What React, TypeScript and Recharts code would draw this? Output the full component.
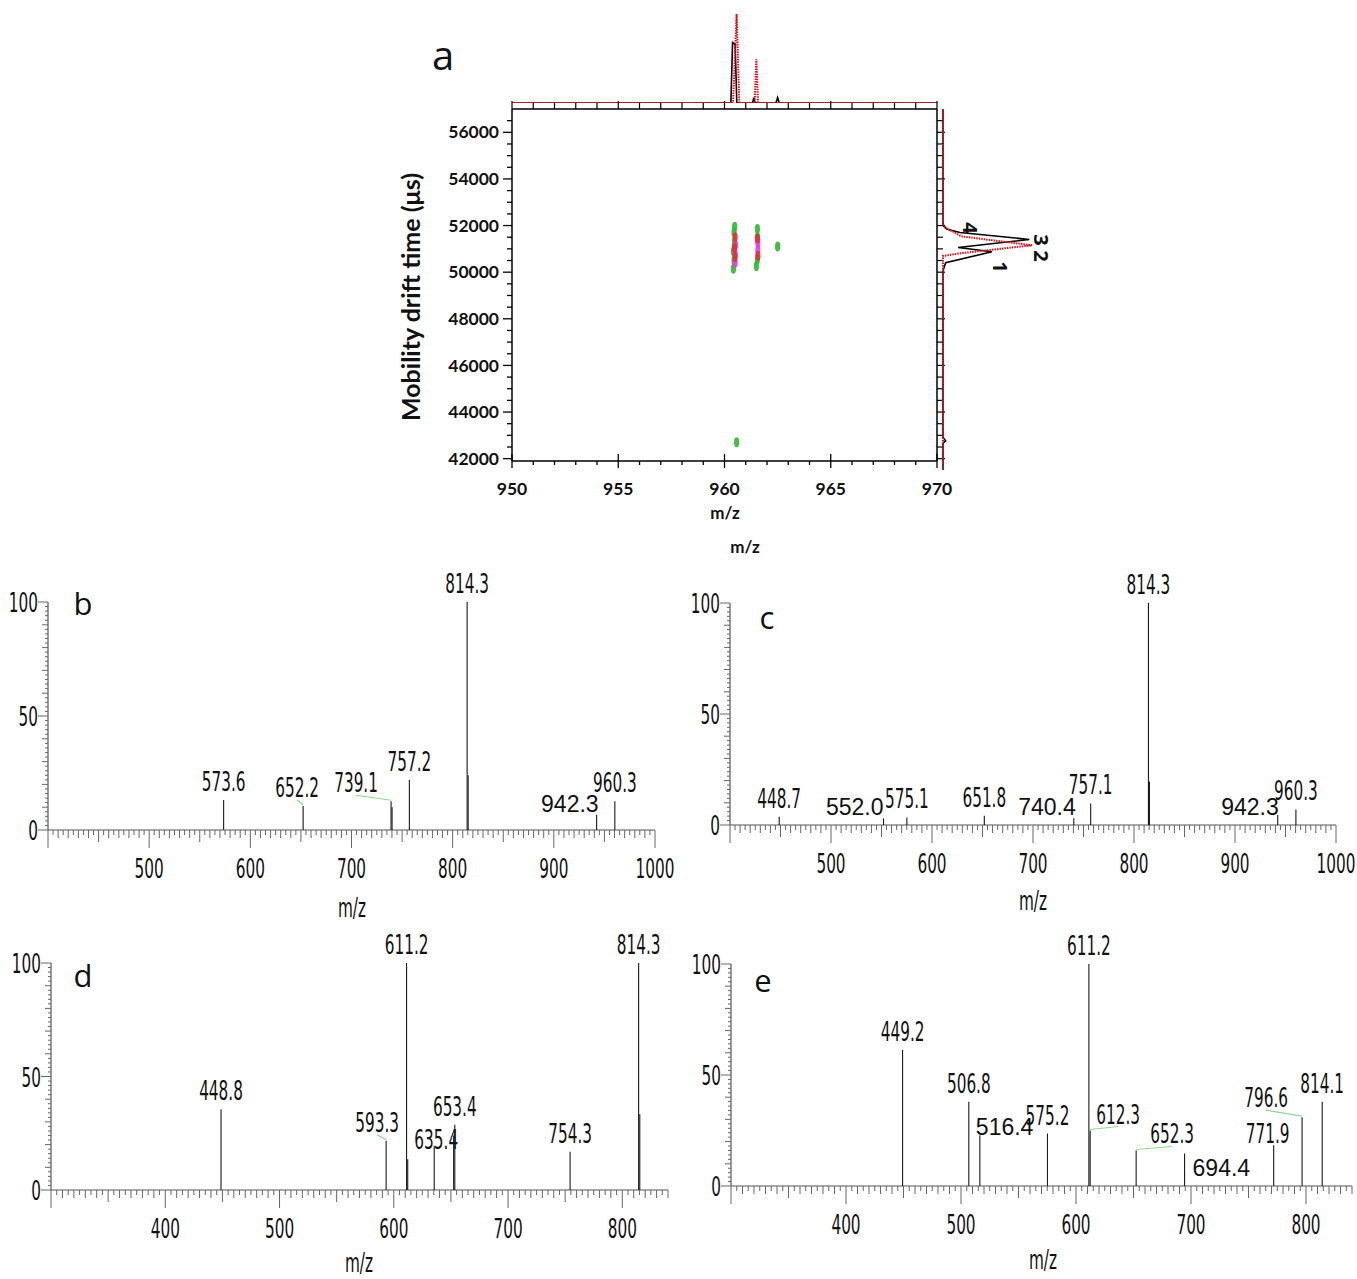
import React from 'react';
import { ScatterChart, Scatter, XAxis, YAxis } from 'recharts';

const NARROW = "'DejaVu Sans Condensed', 'DejaVu Sans', sans-serif";
const PLAIN = "'Liberation Sans', Arial, sans-serif";
const BOLD = "Lato, 'Open Sans', sans-serif";
const INK = '#111';
const LEADER = '#8fd88f';

// ---------- panel a: drift time vs m/z map ----------
const MAP_MZ_DOMAIN = [950, 970];
const MAP_DRIFT_DOMAIN = [41900, 57000];
const SIDE_DRIFT_DOMAIN = [41500, 57000];

// top projection (m/z profile)
const TOP_MZ_BLACK = [950, 960.3, 960.38, 960.5, 960.58, 961.32, 961.38, 961.44, 962.42, 962.5, 962.58, 970];
const TOP_INT_BLACK = [0, 0, 68, 66, 0, 0, 6, 0, 0, 6, 0, 0];
const TOP_MZ_RED = [950, 960.4, 960.57, 960.7, 961.42, 961.5, 961.58, 970];
const TOP_INT_RED = [0, 0, 100, 0, 0, 49, 0, 0];

// side projection (drift time profile)
const SIDE_DRIFT_BLACK = [57000, 52000, 51850, 51700, 51400, 51050, 50870, 50400, 50050, 42900, 42750, 42650, 41500];
const SIDE_INT_BLACK = [0, 0, 4, 19, 97, 17, 55, 3, 0, 0, 3, 0, 0];
const SIDE_DRIFT_RED = [57000, 52050, 51900, 51530, 51150, 50810, 50690, 41500];
const SIDE_INT_RED = [0, 0, 3, 21, 100, 21, 0, 0];

// spots in the map
const SPOTS_GREEN = [
  { mz: 960.42, drift: 50150 }, { mz: 960.45, drift: 50500 }, { mz: 960.42, drift: 50900 },
  { mz: 960.47, drift: 51300 }, { mz: 960.45, drift: 51700 }, { mz: 960.48, drift: 51950 },
  { mz: 961.5, drift: 50250 }, { mz: 961.55, drift: 50550 }, { mz: 961.55, drift: 51500 },
  { mz: 961.55, drift: 51850 }, { mz: 962.5, drift: 51100 }, { mz: 960.57, drift: 42700 },
];
const SPOTS_MAGENTA = [
  { mz: 960.5, drift: 50400 }, { mz: 960.5, drift: 50800 }, { mz: 960.52, drift: 51150 },
  { mz: 961.57, drift: 50950 }, { mz: 961.57, drift: 51250 },
];
const SPOTS_RED = [
  { mz: 960.5, drift: 50650 }, { mz: 960.47, drift: 51050 }, { mz: 960.5, drift: 51500 },
  { mz: 961.55, drift: 51450 }, { mz: 961.57, drift: 50700 },
];

// ---------- panels b-e: MS/MS spectra ----------
const B_MZ = [573.6, 652.2, 739.1, 740.1, 757.2, 814.3, 815.3, 942.3, 960.3];
const B_REL = [13.2, 10.5, 12.6, 10, 22, 100, 24, 6.7, 12.6];
const B_TAG = ['573.6', '652.2', '739.1', '', '757.2', '814.3', '', '942.3', '960.3'];

const C_MZ = [448.7, 552.0, 575.1, 651.8, 740.4, 757.1, 814.3, 815.3, 942.3, 960.3];
const C_REL = [3.7, 3, 3.4, 4.2, 3, 9.7, 100, 19.5, 4.5, 7];
const C_TAG = ['448.7', '552.0', '575.1', '651.8', '740.4', '757.1', '814.3', '', '942.3', '960.3'];

const D_MZ = [448.8, 593.3, 611.2, 612.2, 635.4, 652.4, 653.4, 754.3, 814.3, 815.3];
const D_REL = [35.6, 21.7, 100, 13.6, 19.5, 24, 28.7, 16.8, 100, 33.4];
const D_TAG = ['448.8', '593.3', '611.2', '', '635.4', '', '653.4', '754.3', '814.3', ''];

const E_MZ = [449.2, 506.8, 516.4, 575.2, 611.2, 612.3, 652.3, 694.4, 771.9, 796.6, 814.1];
const E_REL = [61.3, 38, 22.9, 23.6, 100, 25, 16, 14.6, 18.4, 31, 38];
const E_TAG = ['449.2', '506.8', '516.4', '575.2', '611.2', '612.3', '652.3', '694.4', '771.9', '796.6', '814.1'];

type Place = { dx?: number; dy?: number; anchor?: 'start' | 'middle' | 'end'; wide?: boolean; leader?: boolean };

// label nudges (styling only)
const PLACE: Record<string, Place> = {
  'b:652.2': { dx: -6, leader: true },
  'b:739.1': { dx: -35, dy: -9, leader: true },
  'b:942.3': { wide: true, anchor: 'end', dx: 2, dy: -3 },
  'c:552.0': { wide: true, anchor: 'end', dx: 0, dy: -3 },
  'c:740.4': { wide: true, anchor: 'end', dx: 2, dy: -3 },
  'c:942.3': { wide: true, anchor: 'end', dx: 1, dy: 0 },
  'd:593.3': { dx: -9, leader: true },
  'd:635.4': { dx: 2, dy: 3 },
  'e:516.4': { wide: true, anchor: 'start', dx: -4, dy: 0 },
  'e:612.3': { dx: 28, dy: -7, leader: true },
  'e:652.3': { dx: 36, dy: -7, leader: true },
  'e:694.4': { wide: true, anchor: 'start', dx: 8, dy: 22 },
  'e:771.9': { dx: -6, dy: -2 },
  'e:796.6': { dx: -36, dy: -10, leader: true },
};

const steps = (from: number, to: number, step: number) => {
  const out: number[] = [];
  for (let i = 0; from + i * step <= to + 1e-9; i++) out.push(Math.round((from + i * step) * 100) / 100);
  return out;
};
const zip2 = (xs: number[], ys: number[], kx: string, ky: string) => xs.map((x, i) => ({ [kx]: x, [ky]: ys[i] }));

// condensed, vertically stretched text like the instrument software output
const NText = ({ x, y, children, anchor = 'middle', size = 20, fill = INK }: any) => (
  <text transform={`translate(${x},${y}) scale(0.85,1.37)`} textAnchor={anchor} fontFamily={NARROW} fontSize={size} fill={fill}>
    {children}
  </text>
);

const Tag = ({ x, y, text, size, family, weight = 400, rotate = 0, sx = 1, sy = 1 }: any) => (
  <div
    style={{
      position: 'absolute', left: x, top: y,
      transform: `translate(-50%,-50%) rotate(${rotate}deg) scale(${sx},${sy})`,
      fontFamily: family, fontSize: size, fontWeight: weight, whiteSpace: 'nowrap', lineHeight: 1, color: INK,
    }}
  >
    {text}
  </div>
);

const Nothing = () => <g />;

// ---------- map ticks ----------
const mapLeftTick = (p: any) => {
  const v = p.payload.value;
  const major = v % 2000 === 0;
  return (
    <g>
      <line x1={p.x - (major ? 9 : 5)} x2={p.x} y1={p.y} y2={p.y} stroke="#000" strokeWidth={1.3} />
      {major && (
        <text x={p.x - 13} y={p.y} dy="0.35em" textAnchor="end" fontFamily={BOLD} fontWeight={700} fontSize={17.5} fill={INK}>
          {v}
        </text>
      )}
    </g>
  );
};
const mapBottomTick = (p: any) => {
  const v = p.payload.value;
  const major = v % 5 === 0;
  return (
    <g>
      <line x1={p.x} x2={p.x} y1={major ? p.y - 7 : p.y} y2={p.y + (major ? 7 : 4)} stroke="#000" strokeWidth={1.3} />
      {major && (
        <text x={p.x} y={p.y + 28} dy="0.35em" textAnchor="middle" fontFamily={BOLD} fontWeight={700} fontSize={17.5} fill={INK}>
          {v}
        </text>
      )}
    </g>
  );
};
const mapTopTick = (p: any) => {
  const major = p.payload.value % 5 === 0;
  return <line x1={p.x} x2={p.x} y1={p.y} y2={p.y - (major ? 8 : 6)} stroke="#000" strokeWidth={1.2} />;
};
const mapRightTick = (p: any) => {
  const major = p.payload.value % 2000 === 0;
  return <line x1={p.x} x2={p.x + (major ? 8 : 6)} y1={p.y} y2={p.y} stroke="#000" strokeWidth={1.2} />;
};

const spot = (color: string) => (p: any) => <ellipse cx={p.cx} cy={p.cy} rx={2.6} ry={5} fill={color} opacity={0.9} />;

function MapPanel() {
  const mzMinor = steps(950, 970, 1);
  const driftMinor = steps(42000, 56500, 500);
  return (
    <>
      {/* top m/z projection */}
      <div style={{ position: 'absolute', left: 500, top: 4 }}>
        <ScatterChart width={449} height={99} margin={{ top: 10, right: 12, left: 12, bottom: 0 }}>
          <XAxis type="number" dataKey="mz" domain={MAP_MZ_DOMAIN} hide />
          <YAxis type="number" dataKey="i" domain={[0, 100]} hide />
          <Scatter data={zip2(TOP_MZ_BLACK, TOP_INT_BLACK, 'mz', 'i')} line={{ stroke: '#000', strokeWidth: 1.6 }} shape={Nothing} isAnimationActive={false} />
          <Scatter data={zip2(TOP_MZ_RED, TOP_INT_RED, 'mz', 'i')} line={{ stroke: '#e3101c', strokeWidth: 2, strokeDasharray: '1.5 1' }} shape={Nothing} isAnimationActive={false} />
        </ScatterChart>
      </div>

      {/* main map */}
      <div style={{ position: 'absolute', left: 400, top: 100 }}>
        <ScatterChart width={560} height={419} margin={{ top: 8, right: 22, bottom: 0, left: 0 }}>
          <XAxis xAxisId="top" orientation="top" type="number" dataKey="mz" domain={MAP_MZ_DOMAIN} ticks={mzMinor} interval={0}
            height={1} tickSize={0} tickMargin={0} tickLine={false} tick={mapTopTick} axisLine={{ stroke: '#000', strokeWidth: 1.5 }} />
          <YAxis yAxisId="right" orientation="right" type="number" dataKey="drift" domain={MAP_DRIFT_DOMAIN} ticks={driftMinor} interval={0}
            width={1} tickSize={0} tickMargin={0} tickLine={false} tick={mapRightTick} axisLine={{ stroke: '#000', strokeWidth: 1.5 }} />
          <XAxis type="number" dataKey="mz" domain={MAP_MZ_DOMAIN} ticks={mzMinor} interval={0}
            height={58} tickSize={0} tickMargin={0} tickLine={false} tick={mapBottomTick} axisLine={{ stroke: '#000', strokeWidth: 1.5 }} />
          <YAxis type="number" dataKey="drift" domain={MAP_DRIFT_DOMAIN} ticks={driftMinor} interval={0}
            width={112} tickSize={0} tickMargin={0} tickLine={false} tick={mapLeftTick} axisLine={{ stroke: '#000', strokeWidth: 1.5 }} />
          {/* binds the frame axes (top / right) so they are drawn */}
          <Scatter xAxisId="top" yAxisId="right" data={SPOTS_GREEN} shape={Nothing} isAnimationActive={false} />
          <Scatter data={SPOTS_GREEN} shape={spot('#2eb82e')} isAnimationActive={false} />
          <Scatter data={SPOTS_MAGENTA} shape={spot('#e040e0')} isAnimationActive={false} />
          <Scatter data={SPOTS_RED} shape={spot('#e0303a')} isAnimationActive={false} />
        </ScatterChart>
      </div>

      {/* side drift projection */}
      <div style={{ position: 'absolute', left: 931, top: 100 }}>
        <ScatterChart width={110} height={370} margin={{ top: 9, right: 9, left: 12, bottom: 0 }}>
          <XAxis type="number" dataKey="i" domain={[0, 100]} hide />
          <YAxis type="number" dataKey="drift" domain={SIDE_DRIFT_DOMAIN} hide />
          <Scatter data={zip2(SIDE_INT_BLACK, SIDE_DRIFT_BLACK, 'i', 'drift')} line={{ stroke: '#000', strokeWidth: 1.6 }} shape={Nothing} isAnimationActive={false} />
          <Scatter data={zip2(SIDE_INT_RED, SIDE_DRIFT_RED, 'i', 'drift')} line={{ stroke: '#e3101c', strokeWidth: 2, strokeDasharray: '1.5 1' }} shape={Nothing} isAnimationActive={false} />
        </ScatterChart>
      </div>

      <Tag x={443} y={55} text="a" size={40} family="'Open Sans', sans-serif" />
      <Tag x={410} y={297} text="Mobility drift time (μs)" size={25} family={BOLD} weight={700} rotate={-90} />
      <Tag x={725} y={512} text="m/z" size={17} family={BOLD} weight={700} />
      <Tag x={745} y={546} text="m/z" size={17} family={BOLD} weight={700} />
      <Tag x={970} y={228} text="4" size={20} family="'Open Sans', sans-serif" weight={700} rotate={90} />
      <Tag x={1000} y={267} text="1" size={20} family="'Open Sans', sans-serif" weight={700} rotate={90} />
      <Tag x={1041} y={240} text="3" size={20} family="'Open Sans', sans-serif" weight={700} rotate={90} />
      <Tag x={1041} y={256} text="2" size={20} family="'Open Sans', sans-serif" weight={700} rotate={90} />
    </>
  );
}

// ---------- spectrum panel ----------
type SpecProps = {
  id: string; left: number; right: number; top: number; bottom: number; domain: number[];
  mz: number[]; rel: number[]; tags: string[]; marginRight?: number;
};

function Spectrum({ id, left, right, top, bottom, domain, mz, rel, tags, marginRight = 22 }: SpecProps) {
  const ML = 47;
  const MT = 45;
  const AXH = 62;
  const width = right + marginRight - (left - ML);
  const height = bottom - top + MT + AXH;
  const base = MT + (bottom - top);
  const data = mz.map((m, i) => ({ mz: m, rel: rel[i], tag: tags[i] }));

  const xTick = (p: any) => {
    const v = p.payload.value;
    const len = v % 100 === 0 ? 18 : v % 50 === 0 ? 12 : v % 10 === 0 ? 8 : 5;
    return (
      <g>
        <line x1={p.x} x2={p.x} y1={p.y} y2={p.y + len} stroke="#666" strokeWidth={1} />
        {v % 100 === 0 && v > domain[0] && <NText x={p.x} y={p.y + 48}>{v}</NText>}
      </g>
    );
  };
  const yTick = (p: any) => {
    const v = p.payload.value;
    const len = v % 50 === 0 ? 10 : v % 10 === 0 ? 6 : 3;
    return (
      <g>
        <line x1={p.x - len} x2={p.x} y1={p.y} y2={p.y} stroke="#666" strokeWidth={1} />
        {v % 50 === 0 && <NText x={p.x - 10} y={p.y + 10} anchor="end">{v}</NText>}
      </g>
    );
  };
  const stick = (p: any) => {
    const { cx, cy, payload } = p;
    const tag: string = payload.tag;
    const pl: Place = PLACE[`${id}:${tag}`] || {};
    const dx = pl.dx ?? 0;
    const dy = pl.dy ?? -9;
    const lx = cx + dx;
    const ly = cy + dy;
    return (
      <g>
        <line x1={cx} x2={cx} y1={cy} y2={base} stroke="#1a1a1a" strokeWidth={1.1} />
        {tag && pl.leader && <line x1={cx} y1={cy - 1} x2={lx} y2={ly + 3} stroke={LEADER} strokeWidth={1.2} />}
        {tag && !pl.wide && <NText x={lx} y={ly} anchor={pl.anchor || 'middle'}>{tag}</NText>}
        {tag && pl.wide && (
          <text x={lx} y={ly} textAnchor={pl.anchor || 'middle'} fontFamily={PLAIN} fontSize={23} fill={INK}>{tag}</text>
        )}
      </g>
    );
  };

  return (
    <div style={{ position: 'absolute', left: left - ML, top: top - MT }}>
      <ScatterChart width={width} height={height} margin={{ top: MT, right: marginRight, bottom: 0, left: 0 }}>
        <XAxis type="number" dataKey="mz" domain={domain} ticks={steps(domain[0], domain[1], 5)} interval={0}
          height={AXH} tickSize={0} tickMargin={0} tickLine={false} tick={xTick} axisLine={{ stroke: '#555', strokeWidth: 1.2 }} />
        <YAxis type="number" dataKey="rel" domain={[0, 100]} ticks={steps(0, 100, 2)} interval={0}
          width={ML} tickSize={0} tickMargin={0} tickLine={false} tick={yTick} axisLine={{ stroke: '#555', strokeWidth: 1.2 }} />
        <Scatter data={data} shape={stick} isAnimationActive={false} />
      </ScatterChart>
    </div>
  );
}

export default function App() {
  return (
    <div style={{ position: 'absolute', left: 0, top: 0, width: 1357, height: 1279, background: '#fff', overflow: 'hidden' }}>
      <MapPanel />

      <Spectrum id="b" left={48} right={655} top={602} bottom={830} domain={[400, 1000]} mz={B_MZ} rel={B_REL} tags={B_TAG} />
      <Spectrum id="c" left={730} right={1336} top={603} bottom={825} domain={[400, 1000]} mz={C_MZ} rel={C_REL} tags={C_TAG} marginRight={21} />
      <Spectrum id="d" left={51} right={668} top={963} bottom={1190} domain={[300, 840]} mz={D_MZ} rel={D_REL} tags={D_TAG} />
      <Spectrum id="e" left={731} right={1352} top={964} bottom={1186} domain={[300, 840]} mz={E_MZ} rel={E_REL} tags={E_TAG} marginRight={5} />

      <Tag x={83} y={603} text="b" size={31} family="'Open Sans', sans-serif" />
      <Tag x={767} y={617} text="c" size={31} family="'Open Sans', sans-serif" />
      <Tag x={83} y={975} text="d" size={31} family="'Open Sans', sans-serif" />
      <Tag x={763} y={980} text="e" size={31} family="'Open Sans', sans-serif" />

      <Tag x={352} y={907} text="m/z" size={20} family={NARROW} sx={0.85} sy={1.37} />
      <Tag x={1033} y={900} text="m/z" size={20} family={NARROW} sx={0.85} sy={1.37} />
      <Tag x={359} y={1262} text="m/z" size={20} family={NARROW} sx={0.85} sy={1.37} />
      <Tag x={1043} y={1259} text="m/z" size={20} family={NARROW} sx={0.85} sy={1.37} />
    </div>
  );
}
